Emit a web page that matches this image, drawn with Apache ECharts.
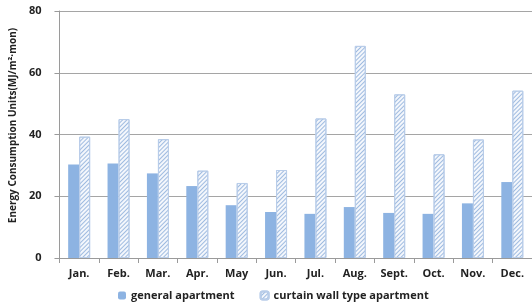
<!DOCTYPE html>
<html>
<head>
<meta charset="utf-8">
<script src="https://cdn.jsdelivr.net/npm/echarts@6/dist/echarts.min.js"></script>
<style>
  html, body { margin: 0; padding: 0; background: #fff; }
  #main { width: 532px; height: 308px; }
</style>
</head>
<body>
<div id="main"></div>
<script>
var months = ['Jan.', 'Feb.', 'Mar.', 'Apr.', 'May', 'Jun.', 'Jul.', 'Aug.', 'Sept.', 'Oct.', 'Nov.', 'Dec.'];
var general = [30.3, 30.6, 27.4, 23.3, 17.1, 14.9, 14.3, 16.5, 14.6, 14.3, 17.7, 24.6];
var curtain = [39.3, 45.0, 38.5, 28.3, 24.3, 28.5, 45.2, 68.7, 53.0, 33.6, 38.4, 54.2];
var yTicks = [0, 20, 40, 60, 80];

var font = '"Open Sans", sans-serif';
var myChart = echarts.init(document.getElementById('main'));

var option = {
    animation: false,
    textStyle: { fontFamily: font },
    grid: { left: 55, right: 0, top: 11, bottom: 50 },
    legend: {
        bottom: 2,
        left: 113,
        itemGap: 25,
        itemWidth: 8,
        itemHeight: 8,
        textStyle: { fontWeight: 'bold', fontSize: 11, color: '#222' },
        data: ['general apartment', 'curtain wall type apartment']
    },
    xAxis: {
        type: 'category',
        data: months,
        axisLine: { lineStyle: { color: '#9a9a9a' } },
        axisTick: { show: true, length: 5, lineStyle: { color: '#9a9a9a' } },
        axisLabel: { fontWeight: 'bold', fontSize: 11, color: '#222', margin: 10 }
    },
    yAxis: {
        type: 'value',
        min: yTicks[0],
        max: yTicks[yTicks.length - 1],
        interval: 20,
        name: 'Energy Consumption Units(MJ/m²·mon)',
        nameLocation: 'middle',
        nameGap: 40,
        nameTextStyle: { fontWeight: 'bold', fontSize: 10, color: '#222', padding: [0, 0, 0, 18] },
        axisLine: { show: true, lineStyle: { color: '#9a9a9a' } },
        axisTick: { show: true, length: 5, lineStyle: { color: '#9a9a9a' } },
        axisLabel: { fontWeight: 'bold', fontSize: 11, color: '#222', margin: 18 },
        splitLine: { lineStyle: { color: '#a5a5a5' } }
    },
    series: [
        {
            name: 'general apartment',
            type: 'bar',
            barWidth: 11,
            barGap: '0%',
            data: general,
            itemStyle: { color: '#8db3e2' }
        },
        {
            name: 'curtain wall type apartment',
            type: 'bar',
            barWidth: 11,
            data: curtain,
            itemStyle: {
                color: '#f4f7fc',
                borderColor: '#b9cde9',
                borderWidth: 1,
                decal: {
                    symbol: 'rect',
                    dashArrayX: [1, 0],
                    dashArrayY: [1, 2],
                    rotation: -Math.PI / 4,
                    color: '#9fbbe0'
                }
            }
        }
    ]
};

myChart.setOption(option);
</script>
</body>
</html>
